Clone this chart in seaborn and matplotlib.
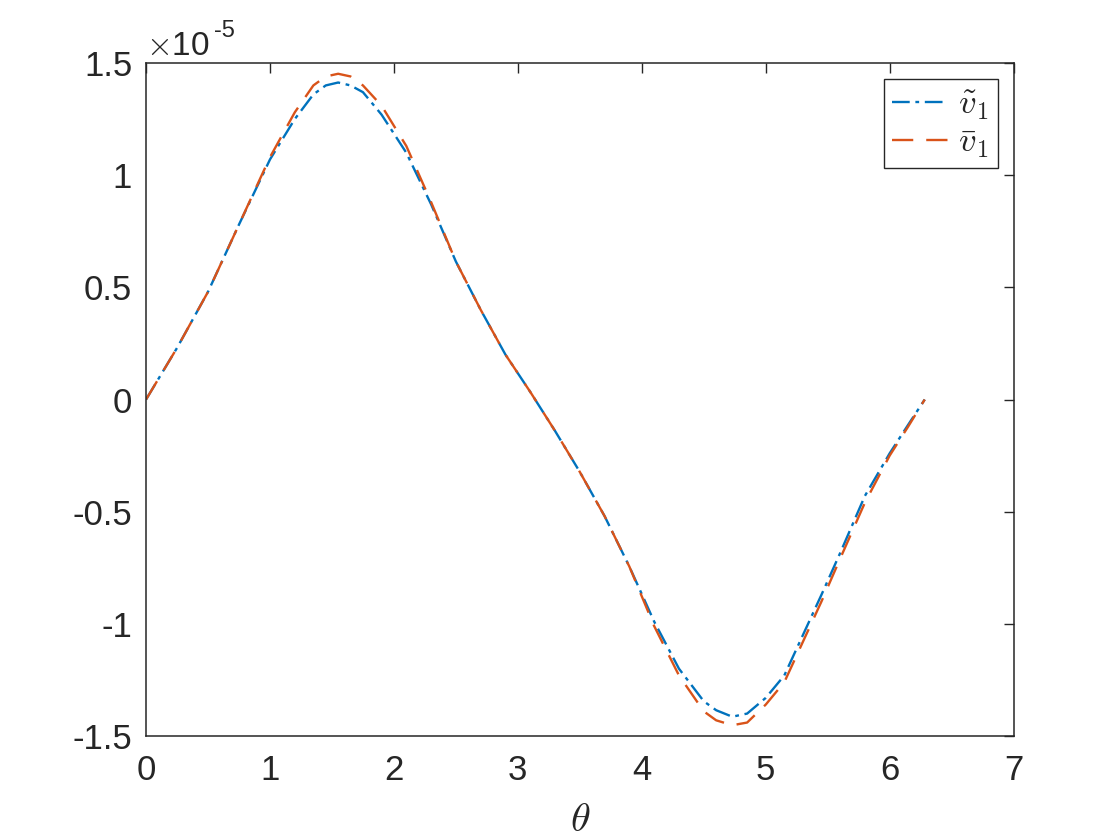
import matplotlib
matplotlib.use("Agg")
import matplotlib.pyplot as plt
import numpy as np
import pandas as pd
import seaborn as sns

# values, in units of 1e-5
theta = [0.0, 0.25, 0.5, 0.75, 1.0, 1.2, 1.35, 1.45, 1.55, 1.65, 1.75, 1.9,
         2.1, 2.3, 2.5, 2.7, 2.9, 3.1, 3.3, 3.5, 3.7, 3.9, 4.1, 4.3, 4.5,
         4.6, 4.73, 4.85, 5.0, 5.15, 5.3, 5.45, 5.6, 5.8, 6.0, 6.15, 6.283]
v_tilde = [0.0, 0.23, 0.48, 0.78, 1.07, 1.25, 1.36, 1.40, 1.413, 1.40, 1.37,
           1.27, 1.10, 0.87, 0.615, 0.40, 0.20, 0.034, -0.14, -0.323, -0.52,
           -0.745, -0.99, -1.20, -1.345, -1.385, -1.414, -1.40, -1.33, -1.23,
           -1.05, -0.87, -0.685, -0.43, -0.24, -0.112, 0.0]
v_bar = [0.0, 0.23, 0.48, 0.78, 1.08, 1.28, 1.40, 1.44, 1.452, 1.44, 1.40,
         1.31, 1.13, 0.88, 0.615, 0.40, 0.20, 0.034, -0.14, -0.323, -0.52,
         -0.745, -1.01, -1.23, -1.39, -1.43, -1.452, -1.44, -1.36, -1.26,
         -1.08, -0.90, -0.71, -0.46, -0.25, -0.12, 0.0]

labels = [r"$\tilde{v}_1$", r"$\bar{v}_1$"]
colors = ["#0072BD", "#D95319"]
ytick_vals = [-1.5, -1, -0.5, 0, 0.5, 1, 1.5]
ytick_text = ["-1.5", "-1", "-0.5", "0", "0.5", "1", "1.5"]
xtick_vals = [0, 1, 2, 3, 4, 5, 6, 7]

df = pd.concat([
    pd.DataFrame({"theta": theta, "v": v_tilde, "series": labels[0]}),
    pd.DataFrame({"theta": theta, "v": v_bar, "series": labels[1]}),
])

sns.set_theme(style="white")
plt.rcParams["font.family"] = ["Liberation Sans", "DejaVu Sans"]
plt.rcParams["mathtext.fontset"] = "cm"
plt.rcParams["axes.unicode_minus"] = False

fig = plt.figure(figsize=(11.2, 8.4), dpi=100)
ax = fig.add_axes([0.1304, 0.1238, 0.7746, 0.8012])

sns.lineplot(
    data=df, x="theta", y="v", hue="series", style="series",
    palette=colors, dashes=[(7.5, 2.4, 1.6, 2.4), (9, 5.5)],
    linewidth=1.7, sort=False, ax=ax, legend=False,
)

ax.set_xlim(0, 7)
ax.set_ylim(-1.5, 1.5)
ax.set_xticks(xtick_vals)
ax.set_yticks(ytick_vals)
ax.set_yticklabels(ytick_text)
ax.tick_params(direction="in", length=7, width=1, colors="#262626",
               labelsize=25, top=True, right=True)
ax.tick_params(axis="x", pad=13)
ax.tick_params(axis="y", pad=10)
for s in ax.spines.values():
    s.set_color("#262626")
    s.set_linewidth(1.1)

ax.set_xlabel(r"$\theta$", fontsize=29, color="#262626", labelpad=10)
ax.set_ylabel("")
ax.text(0.0, 1.012, r"$\times$10", transform=ax.transAxes, fontsize=24,
        color="#262626", ha="left", va="baseline")
ax.text(0.0785, 1.039, "-5", transform=ax.transAxes, fontsize=17,
        color="#262626", ha="left", va="baseline")

handles = ax.get_lines()[:2]
leg = ax.legend(handles, labels, loc="upper right", bbox_to_anchor=(0.9816, 0.976),
                fontsize=25, frameon=True, fancybox=False, edgecolor="#262626",
                framealpha=1, handlelength=1.6, borderpad=0.25,
                labelspacing=0.12, handletextpad=0.3, borderaxespad=0)
leg.get_frame().set_linewidth(1.0)

fig.savefig("out.png", dpi=100)
